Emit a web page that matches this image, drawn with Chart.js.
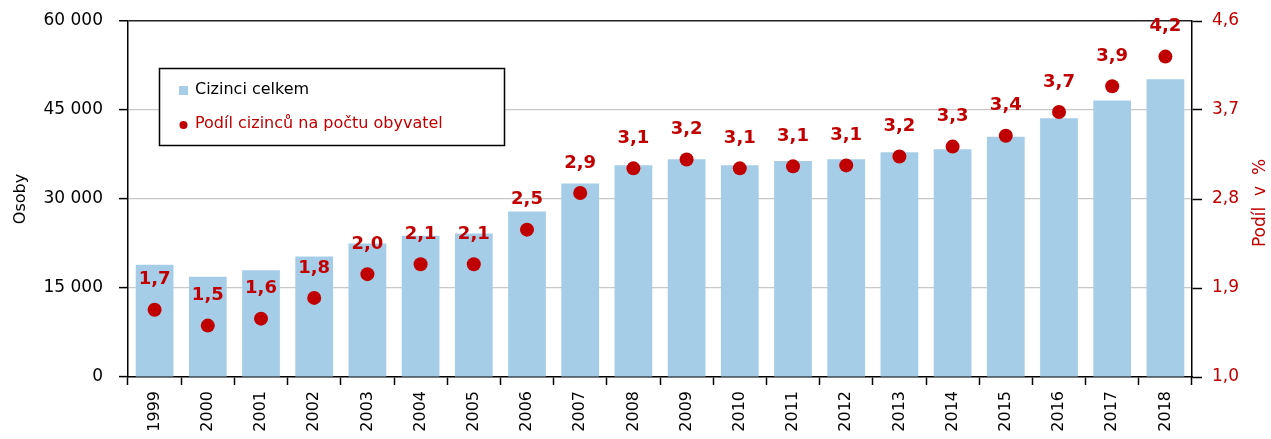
<!DOCTYPE html>
<html>
<head>
<meta charset="utf-8">
<script src="https://cdn.jsdelivr.net/npm/chart.js@4/dist/chart.umd.min.js"></script>
<style>
html,body{margin:0;padding:0;background:#fff;}
#wrap{position:relative;width:1271px;height:439px;}
</style>
</head>
<body>
<div id="wrap"><canvas id="c" width="1271" height="439"></canvas></div>
<script>
const categories = ['1999','2000','2001','2002','2003','2004','2005','2006','2007','2008','2009','2010','2011','2012','2013','2014','2015','2016','2017','2018'];
const foreignersTotal = [18900,16900,18000,20300,22500,23800,24200,27900,32600,35700,36700,35700,36400,36700,37900,38400,40500,43600,46600,50200];
const shareValues = [1.68,1.52,1.59,1.80,2.04,2.14,2.14,2.49,2.86,3.11,3.20,3.11,3.13,3.14,3.23,3.33,3.44,3.68,3.94,4.24];
const shareLabels = ['1,7','1,5','1,6','1,8','2,0','2,1','2,1','2,5','2,9','3,1','3,2','3,1','3,1','3,1','3,2','3,3','3,4','3,7','3,9','4,2'];
const leftTicks = [0,15000,30000,45000,60000];
const rightTicks = [1.0,1.9,2.8,3.7,4.6];
const seriesNames = ['Cizinci celkem','Podíl cizinců na počtu obyvatel'];
const axisTitles = ['Osoby','Podíl  v  %'];

const BLUE = '#a6cde8';
const RED = '#c00000';
const FONT = 'DejaVu Sans';

const labelPlugin = {
  id:'pointLabels',
  afterDatasetsDraw(chart){
    const ctx = chart.ctx;
    const meta = chart.getDatasetMeta(1);
    ctx.save();
    ctx.font = 'bold 18px "'+FONT+'"';
    ctx.fillStyle = RED;
    ctx.textAlign = 'center';
    ctx.textBaseline = 'middle';
    meta.data.forEach((pt,i)=>{
      ctx.fillText(shareLabels[i], pt.x, pt.y - 30);
    });
    ctx.restore();
  }
};

const extrasPlugin = {
  id:'extras',
  afterDraw(chart){
    const ctx = chart.ctx;
    ctx.save();
    ctx.font = '17px "'+FONT+'"';
    ctx.fillStyle = RED;
    ctx.textAlign = 'center';
    ctx.textBaseline = 'middle';
    ctx.translate(1261, 203);
    ctx.rotate(-Math.PI/2);
    ctx.fillText(axisTitles[1], 0, 0);
    ctx.restore();

    ctx.save();
    ctx.fillStyle = '#fff';
    ctx.fillRect(159.5, 68.5, 345, 77);
    ctx.strokeStyle = '#000';
    ctx.lineWidth = 1.5;
    ctx.strokeRect(159.5, 68.5, 345, 77);
    ctx.fillStyle = BLUE;
    ctx.fillRect(179, 86, 9, 9);
    ctx.fillStyle = RED;
    ctx.beginPath();
    ctx.arc(183.5, 125, 4, 0, Math.PI*2);
    ctx.fill();
    ctx.font = '16px "'+FONT+'"';
    ctx.textAlign = 'left';
    ctx.textBaseline = 'middle';
    ctx.fillStyle = '#000';
    ctx.fillText(chart.data.datasets[0].label, 195, 90);
    ctx.fillStyle = RED;
    ctx.fillText(chart.data.datasets[1].label, 195, 124);
    ctx.restore();
  }
};

function noPad(s){ s.paddingTop = 0; s.paddingBottom = 0; }

new Chart(document.getElementById('c'), {
  type:'bar',
  data:{
    labels: categories,
    datasets:[
      {type:'bar', label: seriesNames[0], data: foreignersTotal, backgroundColor: BLUE, borderWidth:0,
       barPercentage:0.71, categoryPercentage:1.0, yAxisID:'y', order:2},
      {type:'line', label: seriesNames[1], data: shareValues, showLine:false, pointRadius:7, pointHoverRadius:7,
       pointBackgroundColor: RED, pointBorderColor: RED, pointBorderWidth:0, yAxisID:'y1', order:1}
    ]
  },
  options:{
    responsive:false,
    animation:false,
    events:[],
    layout:{padding:{top:21,left:0,right:0,bottom:0}},
    plugins:{legend:{display:false}, tooltip:{enabled:false}},
    scales:{
      x:{
        offset:true,
        grid:{offset:true, drawOnChartArea:false, drawTicks:true, tickLength:8, tickColor:'#000', tickWidth:1.5},
        border:{color:'#000', width:1.5},
        ticks:{minRotation:90, maxRotation:90, autoSkip:false, padding:6, color:'#000', font:{family:FONT, size:16}},
        afterFit(s){ s.height = 62; s.paddingLeft = 0; s.paddingRight = 0; }
      },
      y:{
        position:'left', min:0, max:60000,
        afterBuildTicks(s){ s.ticks = leftTicks.map(v=>({value:v})); },
        ticks:{padding:16, color:'#000', font:{family:FONT, size:17},
          callback(v){ return String(v).replace(/\B(?=(\d{3})+(?!\d))/g,' '); }},
        grid:{color(c){ return c.tick && c.tick.value===60000 ? '#222' : '#c8c8c8'; },
              lineWidth(c){ return c.tick && c.tick.value===60000 ? 1.5 : 1.2; },
              tickLength:9, tickColor:'#000', tickWidth:1.5},
        border:{color:'#000', width:1.5},
        title:{display:true, text: axisTitles[0], color:'#000', font:{family:FONT, size:16}, padding:{top:11,bottom:0}},
        afterFit(s){ s.width = 128; noPad(s); }
      },
      y1:{
        position:'right', min:1.0, max:4.6,
        afterBuildTicks(s){ s.ticks = rightTicks.map(v=>({value:v})); },
        ticks:{padding:10, color:RED, font:{family:FONT, size:17},
          callback(v){ return Number(v).toFixed(1).replace('.',','); }},
        grid:{drawOnChartArea:false, tickLength:10, tickColor:'#000', tickWidth:1.5},
        border:{color:'#000', width:1.5},
        afterFit(s){ s.width = 79; noPad(s); }
      }
    }
  },
  plugins:[labelPlugin, extrasPlugin]
});
</script>
</body>
</html>
